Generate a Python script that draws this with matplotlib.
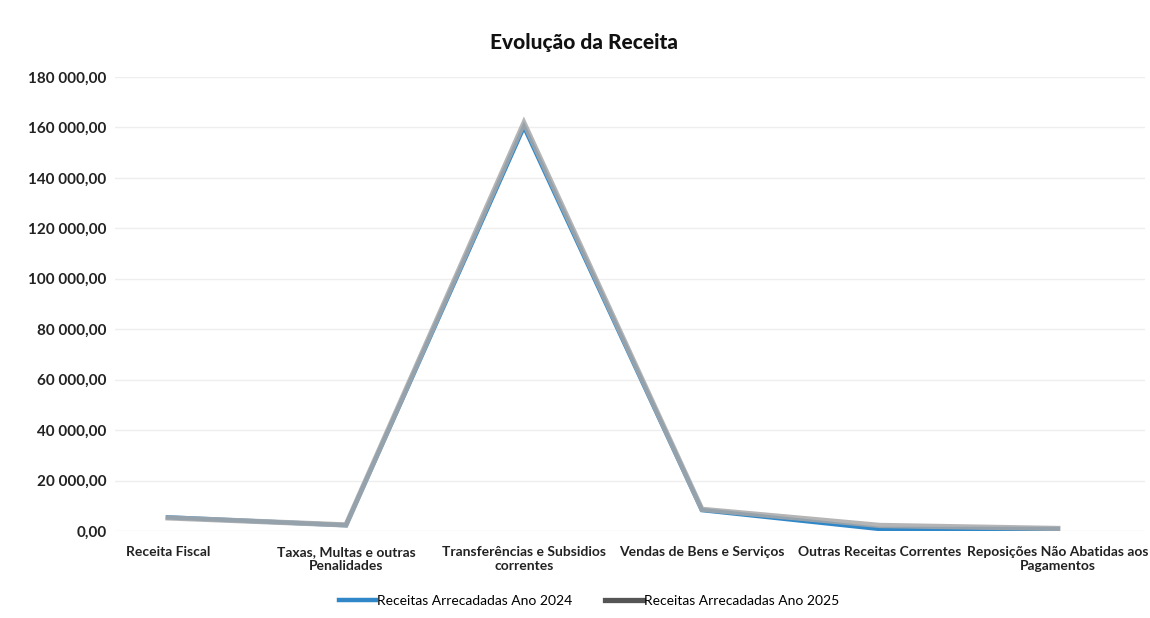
import matplotlib
matplotlib.use("Agg")
import matplotlib.pyplot as plt
from matplotlib.ticker import FuncFormatter

categories = ["Receita Fiscal", "Taxas, Multas e outras\nPenalidades",
              "Transferências e Subsidios\ncorrentes", "Vendas de Bens e Serviços",
              "Outras Receitas Correntes", "Reposições Não Abatidas aos\nPagamentos"]
receitas_2024 = [5400, 2300, 160300, 8300, 800, 800]
receitas_2025 = [5200, 2400, 161800, 8600, 2200, 1000]
series_names = ["Receitas Arrecadadas Ano 2024", "Receitas Arrecadadas Ano 2025"]
yticks = list(range(0, 180001, 20000))

plt.rcParams['font.family'] = ['Lato', 'DejaVu Sans']

fig = plt.figure(figsize=(11.5, 6.18), dpi=100)
ax = fig.add_axes([115/1150, 1-531/618, 1030/1150, (531-77)/618])

x = list(range(len(categories)))
ax.plot(x, receitas_2024, color='#2f87c8', lw=3.2, solid_joinstyle='miter', zorder=3,
        label=series_names[0])
ax.plot(x, receitas_2025, color='#a8a8a8', lw=3.8, alpha=0.85, solid_joinstyle='miter', zorder=4,
        label=series_names[1])

ax.set_ylim(0, 180000)
ax.set_xlim(-0.298, 5.49)
ax.set_yticks(yticks)

def fmt(v, p):
    s = f"{int(v):,}".replace(",", " ")
    return s + ",00"
ax.yaxis.set_major_formatter(FuncFormatter(fmt))
ax.set_xticks(x)
ax.set_xticklabels(categories, fontsize=10, fontweight='bold', color='#222222', linespacing=1.2)
for lab in ax.get_yticklabels():
    lab.set_fontsize(11)
    lab.set_fontweight('bold')
    lab.set_color('#222222')
ax.tick_params(axis='both', length=0)
ax.tick_params(axis='y', pad=6)
ax.tick_params(axis='x', pad=11)
ax.grid(axis='y', color='#eeeeee', lw=1)
ax.set_axisbelow(True)
for s in ax.spines.values():
    s.set_visible(False)

fig.text(0.508, 1-43/618, "Evolução da Receita", ha='center', va='center',
         fontsize=15, fontweight='black', color='#111111')

leg = fig.legend(handles=ax.get_lines(), loc='center', bbox_to_anchor=(0.512, 1-601/618),
                 ncol=2, frameon=False, fontsize=10, handlelength=2.7, handletextpad=0.05,
                 columnspacing=2.4)
leg.get_lines()[1].set_color('#555555')
leg.get_lines()[1].set_alpha(1)

fig.savefig("out.png", dpi=100, facecolor='white')
